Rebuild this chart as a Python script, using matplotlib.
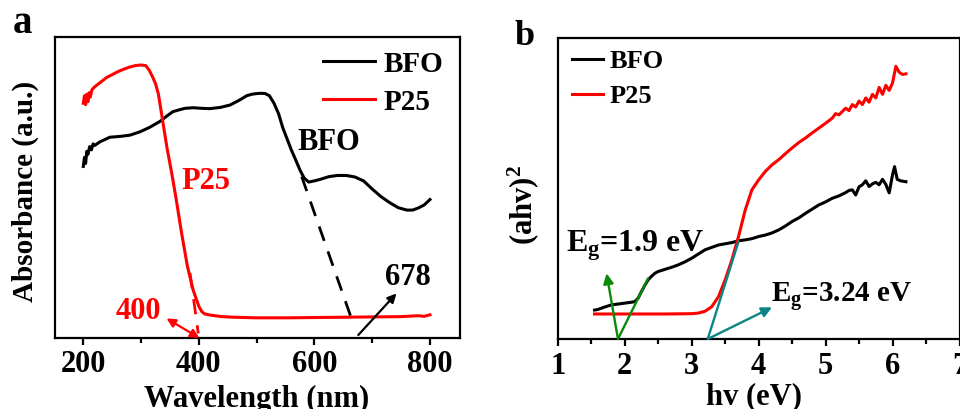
import matplotlib
matplotlib.use("Agg")
import matplotlib.pyplot as plt
import numpy as np

plt.rcParams["font.family"] = ["Liberation Serif", "DejaVu Serif"]
plt.rcParams["font.weight"] = "bold"
plt.rcParams["mathtext.fontset"] = "custom"
plt.rcParams["mathtext.rm"] = "Liberation Serif:bold"
plt.rcParams["mathtext.bf"] = "Liberation Serif:bold"
plt.rcParams["mathtext.it"] = "Liberation Serif:bold"

# ---------------- (a) UV-vis absorbance ----------------
p25_wl = [200, 202, 204, 206, 208, 210, 212, 215, 220, 230, 240, 250, 260, 270,
          280, 290, 300, 308, 314, 320, 325, 330, 338, 345, 353, 360, 370, 380,
          390, 400, 405, 410, 420, 440, 460, 500, 550, 600, 650, 700, 750, 780,
          790, 800]
p25_abs = [0.78, 0.805, 0.775, 0.81, 0.785, 0.815, 0.80, 0.825, 0.835, 0.85,
           0.865, 0.875, 0.885, 0.893, 0.90, 0.905, 0.907, 0.905, 0.89, 0.867,
           0.845, 0.81, 0.714, 0.63, 0.548, 0.47, 0.35, 0.24, 0.16, 0.105,
           0.088, 0.080, 0.076, 0.071, 0.069, 0.067, 0.067, 0.068, 0.069,
           0.070, 0.071, 0.074, 0.072, 0.077]

bfo_wl = [200, 202, 204, 206, 208, 211, 214, 217, 220, 229, 246, 265, 281, 298,
          315, 333, 345, 355, 366, 376, 390, 405, 419, 437, 454, 470, 483, 492,
          500, 508, 515, 522, 530, 538, 545, 553, 560, 568, 575, 582, 590, 600,
          610, 625, 640, 655, 670, 685, 700, 715, 730, 745, 760, 770, 780, 790,
          800]
bfo_abs = [0.57, 0.60, 0.58, 0.62, 0.61, 0.636, 0.625, 0.645, 0.64, 0.652,
           0.667, 0.670, 0.674, 0.685, 0.70, 0.72, 0.738, 0.752, 0.758, 0.763,
           0.765, 0.763, 0.762, 0.766, 0.774, 0.79, 0.805, 0.81, 0.812, 0.813,
           0.812, 0.805, 0.78, 0.745, 0.70, 0.66, 0.625, 0.59, 0.558, 0.532,
           0.518, 0.522, 0.527, 0.536, 0.540, 0.540, 0.535, 0.522, 0.495, 0.47,
           0.45, 0.433, 0.425, 0.425, 0.432, 0.442, 0.46]

# Tangent extrapolations to the wavelength axis
bfo_tangent_wl = [578, 667]
bfo_tangent_abs = [0.536, 0.049]
p25_tangent_wl = [384.7, 399]
p25_tangent_abs = [0.216, 0.015]

# ---------------- (b) Tauc plot ----------------
bfo_ev = [1.55, 1.60, 1.70, 1.80, 1.90, 2.00, 2.10, 2.15, 2.20, 2.25, 2.30, 2.35,
          2.40, 2.45, 2.50, 2.60, 2.70, 2.80, 2.90, 3.00, 3.10, 3.20, 3.30, 3.40,
          3.50, 3.60, 3.70, 3.80, 3.90, 4.00, 4.10, 4.20, 4.30, 4.40, 4.50, 4.60,
          4.70, 4.80, 4.90, 5.00, 5.10, 5.20, 5.30, 5.35, 5.40, 5.45, 5.50, 5.55,
          5.60, 5.65, 5.70, 5.75, 5.80, 5.85, 5.90, 5.95, 6.00, 6.03, 6.07, 6.12,
          6.20]
bfo_ahv = [0.096, 0.098, 0.106, 0.113, 0.116, 0.119, 0.122, 0.124, 0.135, 0.157,
           0.178, 0.196, 0.208, 0.218, 0.224, 0.231, 0.238, 0.246, 0.256, 0.268,
           0.282, 0.296, 0.304, 0.312, 0.316, 0.320, 0.326, 0.329, 0.333, 0.340,
           0.345, 0.352, 0.362, 0.375, 0.390, 0.402, 0.417, 0.431, 0.445, 0.455,
           0.467, 0.475, 0.486, 0.493, 0.495, 0.478, 0.505, 0.512, 0.525, 0.506,
           0.515, 0.520, 0.512, 0.530, 0.513, 0.485, 0.545, 0.572, 0.530, 0.525,
           0.522]

p25_ev = [1.55, 1.80, 2.20, 2.60, 3.00, 3.10, 3.20, 3.30, 3.40, 3.50, 3.60, 3.70,
          3.80, 3.90, 4.00, 4.10, 4.20, 4.30, 4.40, 4.50, 4.60, 4.70, 4.80, 4.90,
          5.00, 5.10, 5.15, 5.20, 5.30, 5.35, 5.40, 5.45, 5.50, 5.55, 5.60, 5.65,
          5.70, 5.75, 5.80, 5.85, 5.90, 5.95, 6.00, 6.05, 6.10, 6.15, 6.20]
p25_ahv = [0.083, 0.083, 0.083, 0.083, 0.084, 0.086, 0.092, 0.107, 0.140, 0.196,
           0.262, 0.340, 0.428, 0.495, 0.528, 0.556, 0.578, 0.595, 0.615, 0.634,
           0.652, 0.667, 0.684, 0.700, 0.716, 0.733, 0.748, 0.744, 0.766, 0.758,
           0.778, 0.770, 0.790, 0.778, 0.800, 0.786, 0.812, 0.800, 0.835, 0.812,
           0.842, 0.825, 0.850, 0.905, 0.885, 0.878, 0.880]

bfo_gap_ev = [1.90, 2.346]
bfo_gap_ahv = [0.0, 0.20]
p25_gap_ev = [3.24, 3.70]
p25_gap_ahv = [0.0, 0.323]

GREEN = "#0a8a0a"
TEAL = "#0a8585"
FS = 21
LW = 2.2

fig = plt.figure(figsize=(9.6, 4.09), dpi=100)
W, H = 960.0, 409.0


def frame(l, t, r, b):
    return [l / W, (H - b) / H, (r - l) / W, (b - t) / H]


def style(ax):
    for s in ax.spines.values():
        s.set_linewidth(1.6)
    ax.tick_params(axis="x", which="major", direction="out", length=5, width=1.6,
                   labelsize=22, pad=4)
    ax.tick_params(axis="x", which="minor", direction="out", length=3.5, width=1.6)
    ax.set_yticks([])
    for lab in ax.get_xticklabels():
        lab.set_fontweight("bold")


# ---- panel a ----
axa = fig.add_axes(frame(55, 37, 460, 338))
axa.plot(bfo_wl, bfo_abs, color="black", lw=LW, label="BFO")
axa.plot(p25_wl, p25_abs, color="red", lw=LW, label="P25")
axa.plot(bfo_tangent_wl, bfo_tangent_abs, color="black", lw=2.0, ls=(0, (5.5, 4)))
axa.plot(p25_tangent_wl, p25_tangent_abs, color="red", lw=2.0, ls=(0, (5.5, 4)))
axa.set_xlim(151, 852)
axa.set_ylim(0, 1)
axa.set_xticks([200, 400, 600, 800])
axa.set_xticks([300, 500, 700], minor=True)
style(axa)

axa.annotate("", xy=(344, 0.065), xytext=(401, 0.0),
             arrowprops=dict(arrowstyle="<|-|>", color="red", lw=1.6,
                             mutation_scale=13, shrinkA=0, shrinkB=0))
axa.text(295, 0.087, "400", color="red", fontsize=22, fontweight="bold",
         ha="center", va="center")
axa.annotate("", xy=(742, 0.148), xytext=(676, 0.01),
             arrowprops=dict(arrowstyle="-|>", color="black", lw=1.6,
                             mutation_scale=13, shrinkA=0, shrinkB=0))
axa.text(762, 0.20, "678", color="black", fontsize=22, fontweight="bold",
         ha="center", va="center")
axa.text(625, 0.65, "BFO", color="black", fontsize=22, fontweight="bold",
         ha="center", va="center")
axa.text(412, 0.52, "P25", color="red", fontsize=22, fontweight="bold",
         ha="center", va="center")
axa.legend(loc="upper right", bbox_to_anchor=(0.96, 0.955), frameon=False,
           borderpad=0, borderaxespad=0, handlelength=1.8, handletextpad=0.3,
           labelspacing=0.38, prop=dict(size=21, weight="bold"))

fig.text(25 / W, 1 - 191 / H, "Absorbance (a.u.)", rotation=90, fontsize=FS,
         fontweight="bold", ha="center", va="center")
fig.text(257 / W, 1 - 407 / H, "Wavelength (nm)", fontsize=22,
         fontweight="bold", ha="center", va="baseline")
fig.text(22 / W, 1 - 33 / H, "a", fontsize=28, fontweight="bold",
         ha="center", va="baseline")

# ---- panel b ----
axb = fig.add_axes(frame(557.7, 37.7, 959.5, 339))
axb.plot(bfo_ev, bfo_ahv, color="black", lw=LW, label="BFO")
axb.plot(p25_ev, p25_ahv, color="red", lw=LW, label="P25")
axb.plot(bfo_gap_ev, bfo_gap_ahv, color=GREEN, lw=1.7)
axb.plot(p25_gap_ev, p25_gap_ahv, color=TEAL, lw=1.7)
axb.annotate("", xy=(1.73, 0.218), xytext=(1.90, 0.0),
             arrowprops=dict(arrowstyle="-|>", color=GREEN, lw=1.7,
                             mutation_scale=15, shrinkA=0, shrinkB=0))
axb.annotate("", xy=(4.20, 0.105), xytext=(3.24, 0.0),
             arrowprops=dict(arrowstyle="-|>", color=TEAL, lw=1.7,
                             mutation_scale=15, shrinkA=0, shrinkB=0))
axb.set_xlim(1, 7)
axb.set_ylim(0, 1)
axb.set_xticks([1, 2, 3, 4, 5, 6, 7])
axb.set_xticks(np.arange(1.5, 7, 1.0), minor=True)
style(axb)
axb.text(1.12, 0.29, r"E$_{\mathrm{g}}$=1.9 eV", fontsize=23, fontweight="bold",
         ha="left", va="baseline")
axb.text(4.19, 0.125, r"E$_{\mathrm{g}}$=3.24 eV", fontsize=21,
         fontweight="bold", ha="left", va="baseline")
axb.legend(loc="upper left", bbox_to_anchor=(0.035, 0.96), frameon=False,
           borderpad=0, borderaxespad=0, handlelength=1.2, handletextpad=0.25,
           labelspacing=0.42, prop=dict(size=19, weight="bold"))

fig.text(523 / W, 1 - 205 / H, r"(ahv)$^{2}$", rotation=90, fontsize=22,
         fontweight="bold", ha="center", va="center")
fig.text(754 / W, 1 - 404 / H, "hv (eV)", fontsize=22, fontweight="bold",
         ha="center", va="baseline")
fig.text(525 / W, 1 - 45 / H, "b", fontsize=26, fontweight="bold",
         ha="center", va="baseline")

fig.savefig("out.png", dpi=100)
